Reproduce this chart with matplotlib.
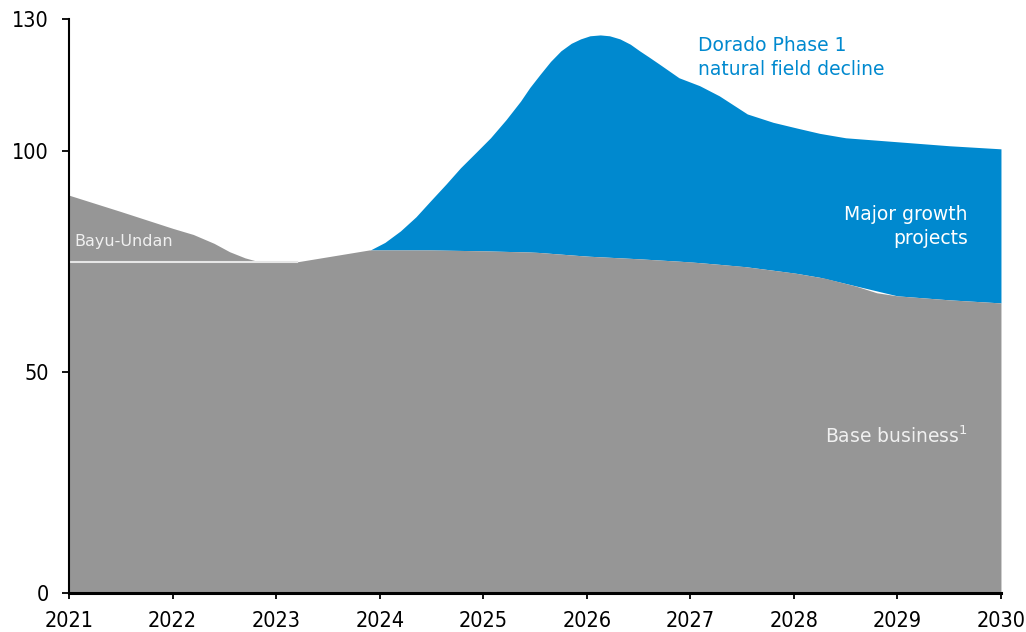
import matplotlib.pyplot as plt
import numpy as np

# production outlook, read per year fraction
base_years = [2021, 2022, 2022.8, 2023.2, 2023.9, 2024.5, 2025, 2025.5, 2026, 2026.5,
              2027, 2027.5, 2028, 2028.3, 2028.6, 2028.8, 2029, 2029.5, 2030]
base_vals = [75.0, 75.0, 75.0, 75.0, 77.7, 77.7, 77.5, 77.2, 76.3, 75.7,
             75.0, 74.0, 72.5, 71.3, 69.5, 68.0, 67.3, 66.4, 65.7]

bayu_years = [2021, 2021.5, 2022, 2022.2, 2022.4, 2022.55, 2022.7, 2022.84]
bayu_vals = [90.1, 86.4, 82.6, 81.2, 79.2, 77.3, 75.9, 75.0]

growth_years = [2023.91, 2024.05, 2024.2, 2024.35, 2024.49, 2024.64, 2024.78, 2024.93,
                2025.07, 2025.22, 2025.36, 2025.45, 2025.55, 2025.65, 2025.75, 2025.85,
                2025.94, 2026.03, 2026.13, 2026.22, 2026.32, 2026.42, 2026.51, 2026.6,
                2026.7, 2026.89, 2027.09, 2027.28, 2027.55, 2027.8, 2028.03, 2028.25,
                2028.5, 2029, 2029.5, 2030]
growth_top = [77.7, 79.4, 82.0, 85.2, 88.8, 92.6, 96.3, 99.8,
              103.1, 107.2, 111.4, 114.5, 117.5, 120.4, 122.8, 124.5,
              125.5, 126.2, 126.4, 126.2, 125.5, 124.3, 122.8, 121.4,
              119.8, 116.7, 114.9, 112.6, 108.5, 106.6, 105.3, 104.1,
              103.1, 102.2, 101.3, 100.6]

ticks_x = list(range(2021, 2031))
ticks_y = [0, 50, 100, 130]

grey = '#969696'
blue = '#0089CF'

fig = plt.figure(figsize=(10.26, 6.32), dpi=100)
ax = fig.add_axes([0.0673, 0.0617, 0.9083, 0.9082])

gx = np.array(growth_years)
base_at_g = np.interp(gx, base_years, base_vals)
ax.fill_between(gx, base_at_g, growth_top, color=blue, linewidth=0)
ax.fill_between(bayu_years, 0, bayu_vals, color=grey, linewidth=0)
ax.fill_between(base_years, 0, base_vals, color=grey, linewidth=0)
ax.plot([2021, 2023.2], [75, 75], color='#e6e6e6', linewidth=1.5)

ax.set_xlim(2021, 2030)
ax.set_ylim(0, 130)
ax.set_xticks(ticks_x)
ax.set_yticks(ticks_y)
ax.spines['top'].set_visible(False)
ax.spines['right'].set_visible(False)
ax.spines['bottom'].set_linewidth(2.2)
ax.spines['left'].set_linewidth(1.5)
ax.tick_params(axis='both', width=1.3, labelsize=15.5)
ax.tick_params(axis='x', length=4, pad=9)
ax.tick_params(axis='y', length=5, pad=9.5)
for lbl in ax.get_xticklabels() + ax.get_yticklabels():
    lbl.set_family('DejaVu Sans')
    lbl.set_fontstretch('condensed')

ax.text(2021.05, 79.5, 'Bayu-Undan', color='#f0f0f0', fontsize=11.5, va='center')
ax.text(2027.07, 121.3, 'Dorado Phase 1\nnatural field decline', color=blue,
        fontsize=13.5, va='center', linespacing=1.3)
ax.text(2029.68, 83.0, 'Major growth\nprojects', color='white', fontsize=13.5,
        ha='right', va='center', linespacing=1.3)
ax.text(2029.68, 35.5, 'Base business$^1$', color='#f0f0f0', fontsize=13.5,
        ha='right', va='center')

fig.savefig('out.png', dpi=100)
